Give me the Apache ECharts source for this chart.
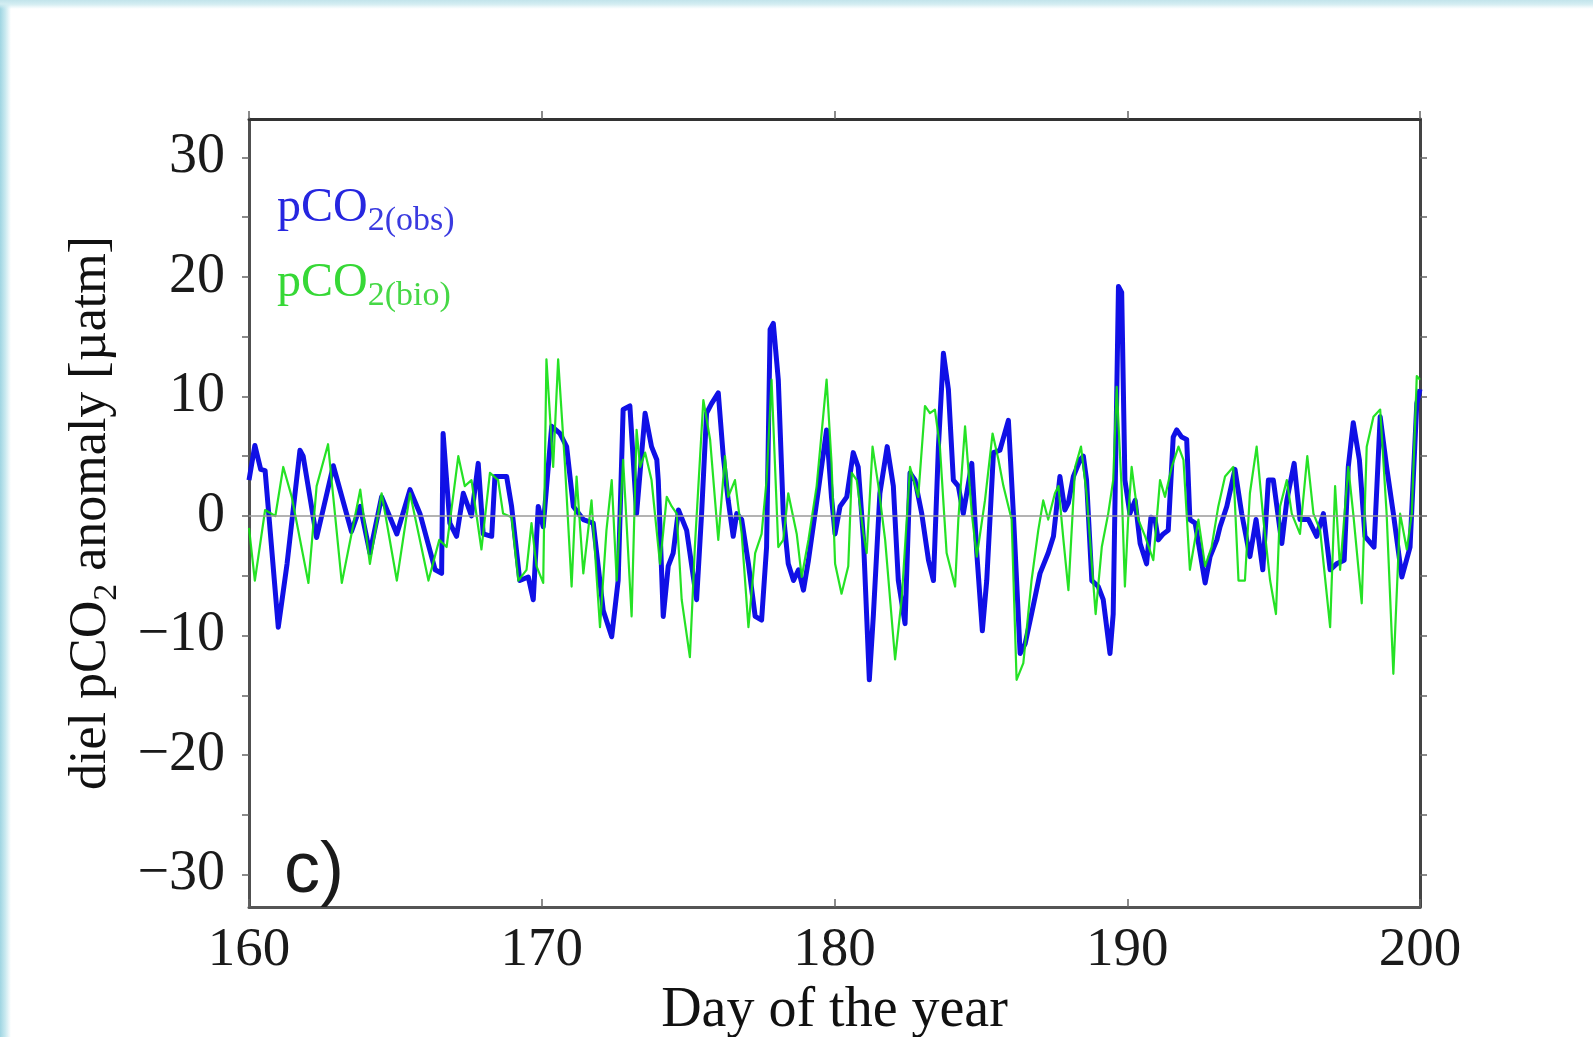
<!DOCTYPE html>
<html>
<head>
<meta charset="utf-8">
<title>diel pCO2 anomaly</title>
<script src="https://cdn.jsdelivr.net/npm/echarts@6/dist/echarts.min.js"></script>
<style>
  html, body { margin: 0; padding: 0; background: #ffffff; }
  #wrap { position: relative; width: 1593px; height: 1037px; overflow: hidden; }
  #chart { position: absolute; left: 0; top: 0; width: 1593px; height: 1037px; }
  .edge-left { position: absolute; left: 0; top: 0; width: 12px; height: 1037px; pointer-events: none;
    background: linear-gradient(to right, #9fd5e2 0px, #c6e8ef 5px, rgba(255,255,255,0) 11px); }
  .edge-top { position: absolute; left: 0; top: 0; width: 1593px; height: 10px; pointer-events: none;
    background: linear-gradient(to bottom, #c2e4eb 0px, #d3edf2 4px, rgba(255,255,255,0) 9px); }
</style>
</head>
<body>
<div id="wrap">
  <div id="chart"></div>
  <div class="edge-left"></div>
  <div class="edge-top"></div>
</div>
<script>
// Observed diel pCO2 anomaly (µatm) by day of the year
const obsDays = [
  160.0, 160.2, 160.4, 160.55, 161.0, 161.3, 161.74, 161.85, 162.31, 162.88,
  163.5, 163.8, 164.13, 164.53, 165.05, 165.5, 165.84, 166.36, 166.58, 166.63,
  166.86, 167.09, 167.32, 167.6, 167.83, 168.0, 168.29, 168.4, 168.8, 168.97,
  169.25, 169.54, 169.71, 169.88, 170.05, 170.34, 170.62, 170.85, 171.08, 171.42,
  171.76, 172.1, 172.39, 172.61, 172.78, 173.01, 173.24, 173.53, 173.75, 173.93,
  173.98, 174.15, 174.32, 174.49, 174.67, 174.95, 175.29, 175.46, 175.63, 175.8,
  176.03, 176.2, 176.37, 176.54, 176.66, 176.83, 177.06, 177.29, 177.51, 177.68,
  177.8, 177.91, 178.08, 178.25, 178.42, 178.6, 178.77, 178.94, 179.11, 179.45,
  179.73, 179.9, 180.02, 180.19, 180.42, 180.64, 180.81, 180.99, 181.19, 181.33,
  181.55, 181.8, 182.01, 182.18, 182.41, 182.58, 182.75, 182.98, 183.21, 183.38,
  183.55, 183.72, 183.89, 184.06, 184.23, 184.4, 184.69, 184.86, 185.05, 185.2,
  185.43, 185.65, 185.94, 186.11, 186.34, 186.51, 186.73, 187.02, 187.3, 187.48,
  187.7, 187.87, 187.99, 188.16, 188.39, 188.5, 188.61, 188.79, 189.01, 189.18,
  189.41, 189.52, 189.7, 189.81, 189.92, 190.09, 190.27, 190.44, 190.66, 190.81,
  190.95, 191.06, 191.23, 191.4, 191.57, 191.69, 191.86, 192.03, 192.14, 192.32,
  192.49, 192.66, 192.83, 193.06, 193.17, 193.4, 193.68, 193.91, 194.19, 194.4,
  194.63, 194.82, 194.99, 195.28, 195.45, 195.7, 195.9, 196.19, 196.47, 196.7,
  196.93, 197.15, 197.41, 197.55, 197.72, 197.93, 198.12, 198.43, 198.64, 198.86,
  199.09, 199.38, 199.66, 199.89, 200.0
];
const obsValues = [
  3.0, 5.9, 3.9, 3.8, -9.3, -4.0, 5.5, 5.0, -1.8, 4.2,
  -1.3, 0.8, -3.1, 1.6, -1.5, 2.2, 0.2, -4.5, -4.8, 6.9,
  -0.6, -1.7, 1.9, 0.0, 4.4, -1.5, -1.7, 3.3, 3.3, 0.8,
  -5.4, -5.1, -7.0, 0.8, -0.9, 7.5, 6.9, 5.8, 0.8, -0.3,
  -0.6, -7.9, -10.1, -5.4, 8.9, 9.2, 0.2, 8.6, 5.8, 4.7,
  3.0, -8.4, -4.2, -3.1, 0.5, -1.2, -7.0, 0.2, 8.6, 9.4,
  10.3, 5.0, 1.3, -1.7, 0.2, -0.3, -4.0, -8.4, -8.7, -2.6,
  15.6, 16.1, 11.4, 0.2, -4.0, -5.4, -4.5, -6.2, -3.7, 2.2,
  7.2, 1.5, -1.5, 0.8, 1.6, 5.3, 4.1, -2.0, -13.7, -8.2,
  1.9, 5.8, 2.5, -5.4, -9.0, 3.6, 3.0, 0.2, -3.7, -5.4,
  5.8, 13.6, 10.6, 3.0, 2.5, 0.2, 4.4, -3.1, -9.6, -5.4,
  5.3, 5.5, 8.0, 0.2, -11.5, -10.7, -8.2, -4.8, -3.1, -1.7,
  3.3, 0.5, 1.1, 3.3, 4.7, 5.0, 3.0, -5.4, -5.9, -7.0,
  -11.5, -8.2, 19.2, 18.7, 3.0, 0.2, 1.3, -2.3, -4.0, -0.1,
  -0.3, -2.0, -1.5, -1.2, 6.6, 7.2, 6.6, 6.4, -0.3, -0.6,
  -3.1, -5.6, -3.4, -2.0, -0.9, 0.8, 3.9, 0.2, -3.4, -0.3,
  -4.5, 3.0, 3.0, -2.3, 1.3, 4.4, -0.3, -0.3, -1.7, 0.2,
  -4.5, -4.0, -3.7, 4.1, 7.8, 4.7, -1.7, -2.6, 8.3, 4.1,
  0.2, -5.1, -2.6, 9.4, 10.6
];

// Biologically driven diel pCO2 anomaly (µatm) by day of the year
const bioDays = [
  160.0, 160.2, 160.55, 160.9, 161.17, 161.46, 162.03, 162.31, 162.7, 163.17,
  163.8, 164.13, 164.53, 165.05, 165.5, 166.13, 166.5, 166.75, 167.15, 167.37,
  167.6, 167.94, 168.23, 168.51, 168.68, 168.97, 169.2, 169.48, 169.65, 169.82,
  170.05, 170.16, 170.39, 170.56, 170.79, 171.02, 171.19, 171.42, 171.7, 171.99,
  172.21, 172.39, 172.56, 172.78, 173.07, 173.24, 173.36, 173.53, 173.75, 174.04,
  174.27, 174.44, 174.61, 174.78, 175.06, 175.23, 175.52, 175.75, 176.03, 176.26,
  176.37, 176.6, 176.83, 177.06, 177.29, 177.51, 177.68, 177.85, 178.08, 178.25,
  178.42, 178.71, 178.88, 179.11, 179.39, 179.73, 179.9, 180.02, 180.24, 180.47,
  180.59, 180.76, 180.99, 181.1, 181.3, 181.5, 181.73, 182.07, 182.3, 182.58,
  182.86, 183.09, 183.26, 183.43, 183.6, 183.83, 184.12, 184.23, 184.46, 184.69,
  184.86, 185.14, 185.4, 185.6, 185.77, 186.05, 186.22, 186.45, 186.73, 186.96,
  187.13, 187.3, 187.53, 187.65, 187.82, 187.99, 188.22, 188.42, 188.61, 188.79,
  188.92, 189.13, 189.35, 189.52, 189.64, 189.81, 189.92, 190.04, 190.15, 190.38,
  190.61, 190.89, 191.12, 191.29, 191.52, 191.75, 191.92, 192.14, 192.43, 192.66,
  192.88, 193.11, 193.34, 193.62, 193.8, 194.02, 194.19, 194.42, 194.65, 194.88,
  195.08, 195.22, 195.45, 195.62, 195.9, 196.15, 196.36, 196.59, 196.93, 197.1,
  197.27, 197.55, 197.72, 198.01, 198.18, 198.41, 198.64, 198.86, 199.09, 199.32,
  199.55, 199.72, 199.89, 200.0
];
const bioValues = [
  -1.0, -5.4, 0.5, 0.0, 4.1, 1.6, -5.6, 2.5, 6.0, -5.6,
  2.2, -4.0, 1.9, -5.4, 1.9, -5.4, -2.0, -2.6, 5.0, 2.5,
  3.0, -2.8, 3.6, 3.0, 0.2, -0.1, -5.4, -4.5, -0.6, -4.2,
  -5.6, 13.1, 4.1, 13.1, 4.4, -5.9, 3.3, -4.8, 1.3, -9.3,
  -1.2, 3.0, -5.4, 4.7, -8.4, 7.2, 4.1, 5.3, 3.0, -4.0,
  1.6, 0.8, 0.2, -7.0, -11.8, -2.6, 9.7, 6.4, -2.0, 5.0,
  1.6, 3.0, -1.5, -9.3, -3.1, -1.5, 3.0, 11.4, -2.6, -2.0,
  1.9, -1.5, -5.1, -2.0, 2.5, 11.4, 4.4, -4.0, -6.5, -4.2,
  3.6, 3.0, -1.5, -3.1, 5.8, 2.5, -2.0, -12.0, -6.8, 4.1,
  1.6, 9.2, 8.6, 8.9, 5.8, -3.1, -5.9, -0.3, 7.5, 0.2,
  -3.4, 1.3, 6.9, 4.7, 2.5, -0.3, -13.7, -12.3, -5.4, -1.2,
  1.3, -0.3, 1.9, 2.5, -2.0, -6.2, 4.1, 5.8, 1.9, -4.0,
  -8.2, -2.6, 0.2, 3.0, 10.8, 2.2, -5.9, 0.2, 4.1, -0.3,
  -1.7, -3.7, 3.0, 1.6, 4.1, 5.8, 4.7, -4.5, -0.3, -4.2,
  -2.6, 0.8, 3.3, 4.1, -5.4, -5.4, 1.9, 5.8, -0.3, -5.4,
  -8.2, 0.8, 3.0, 0.2, -1.5, 5.0, 0.2, -1.2, -9.3, 2.5,
  -4.5, 4.1, 0.2, -7.3, 5.8, 8.3, 8.9, 0.2, -13.2, 0.2,
  -2.8, 0.2, 11.7, 11.4
];

// Axis settings
const dayTicks = [160, 170, 180, 190, 200];
const yLabelValues = [-30, -20, -10, 0, 10, 20, 30];
const yTickValues = [-30, -25, -20, -15, -10, -5, 0, 5, 10, 15, 20, 25, 30];

const pair = (xs, ys) => xs.map((x, i) => [x, ys[i]]);
const serif = '"Liberation Serif", "Times New Roman", serif';
const fmtNum = v => (v < 0 ? '\u2212' + Math.abs(v) : String(v));

const chart = echarts.init(document.getElementById('chart'), null, { renderer: 'canvas' });

const yBase = {
  type: 'value',
  min: -32.7,
  max: 33.2,
  splitLine: { show: false },
  axisLine: { show: true, onZero: false, lineStyle: { color: '#505050', width: 3 } },
  axisTick: { show: true, length: 7, customValues: yTickValues, lineStyle: { color: '#666', width: 1.5 } }
};

chart.setOption({
  animation: false,
  backgroundColor: 'transparent',
  grid: { left: 249, top: 119, width: 1171, height: 788, containLabel: false, outerBoundsMode: 'none' },
  xAxis: [
    {
      type: 'value',
      min: dayTicks[0],
      max: dayTicks[dayTicks.length - 1],
      interval: 10,
      position: 'bottom',
      name: 'Day of the year',
      nameLocation: 'middle',
      nameGap: 73,
      nameTextStyle: { fontFamily: serif, fontSize: 56, color: '#111' },
      splitLine: { show: false },
      axisLine: { show: true, onZero: false, lineStyle: { color: '#555', width: 3 } },
      axisTick: { show: true, inside: true, length: 8, lineStyle: { color: '#666', width: 1.5 } },
      axisLabel: { fontFamily: serif, fontSize: 55, color: '#1a1a1a', margin: 16 }
    },
    {
      type: 'value',
      min: dayTicks[0],
      max: dayTicks[dayTicks.length - 1],
      interval: 10,
      position: 'top',
      splitLine: { show: false },
      axisLine: { show: true, onZero: false, lineStyle: { color: '#333', width: 3 } },
      axisTick: { show: true, length: 8, lineStyle: { color: '#666', width: 1.5 } },
      axisLabel: { show: false }
    }
  ],
  yAxis: [
    Object.assign({}, yBase, {
      position: 'left',
      name: '{m|diel pCO}{s|2}{m| anomaly [\u00b5atm]}',
      nameLocation: 'middle',
      nameGap: 125,
      nameTextStyle: {
        fontFamily: serif, fontSize: 52, color: '#111',
        rich: {
          m: { fontFamily: serif, fontSize: 52, color: '#111', lineHeight: 56 },
          s: { fontFamily: serif, fontSize: 34, color: '#111', lineHeight: 66, verticalAlign: 'bottom' }
        }
      },
      axisLabel: {
        fontFamily: serif, fontSize: 56, color: '#1a1a1a', margin: 24,
        customValues: yLabelValues, formatter: fmtNum
      }
    }),
    Object.assign({}, yBase, {
      position: 'right',
      axisLine: { show: true, onZero: false, lineStyle: { color: '#444', width: 3 } },
      axisLabel: { show: false }
    })
  ],
  series: [
    {
      name: 'zero',
      type: 'line',
      data: [],
      z: 1,
      markLine: {
        silent: true,
        symbol: 'none',
        label: { show: false },
        lineStyle: { color: '#9a9a9a', width: 1.5, type: 'solid' },
        data: [{ yAxis: 0 }]
      }
    },
    {
      name: 'pCO2(obs)',
      type: 'line',
      data: pair(obsDays, obsValues),
      showSymbol: false,
      symbol: 'none',
      z: 3,
      lineStyle: { color: '#1010e6', width: 5, join: 'round' }
    },
    {
      name: 'pCO2(bio)',
      type: 'line',
      data: pair(bioDays, bioValues),
      showSymbol: false,
      symbol: 'none',
      z: 4,
      lineStyle: { color: '#12e012', width: 2.2, opacity: 0.92, join: 'round' }
    }
  ],
  graphic: [
    {
      type: 'text', left: 277, top: 184, z: 10,
      style: {
        text: '{m|pCO}{s|2(obs)}',
        fill: '#2626e0',
        verticalAlign: 'top',
        rich: {
          m: { fontFamily: serif, fontSize: 48, fill: '#2626e0', lineHeight: 60 },
          s: { fontFamily: serif, fontSize: 34, fill: '#3a3ae0', lineHeight: 60, verticalAlign: 'bottom' }
        }
      }
    },
    {
      type: 'text', left: 277, top: 259, z: 10,
      style: {
        text: '{m|pCO}{s|2(bio)}',
        fill: '#36d836',
        verticalAlign: 'top',
        rich: {
          m: { fontFamily: serif, fontSize: 48, fill: '#36d836', lineHeight: 60 },
          s: { fontFamily: serif, fontSize: 34, fill: '#46d846', lineHeight: 60, verticalAlign: 'bottom' }
        }
      }
    },
    {
      type: 'text', left: 284, top: 836, z: 10,
      style: {
        text: 'c)',
        fill: '#1a1a1a',
        font: '72px "Liberation Sans", Arial, sans-serif'
      }
    }
  ]
});
</script>
</body>
</html>
